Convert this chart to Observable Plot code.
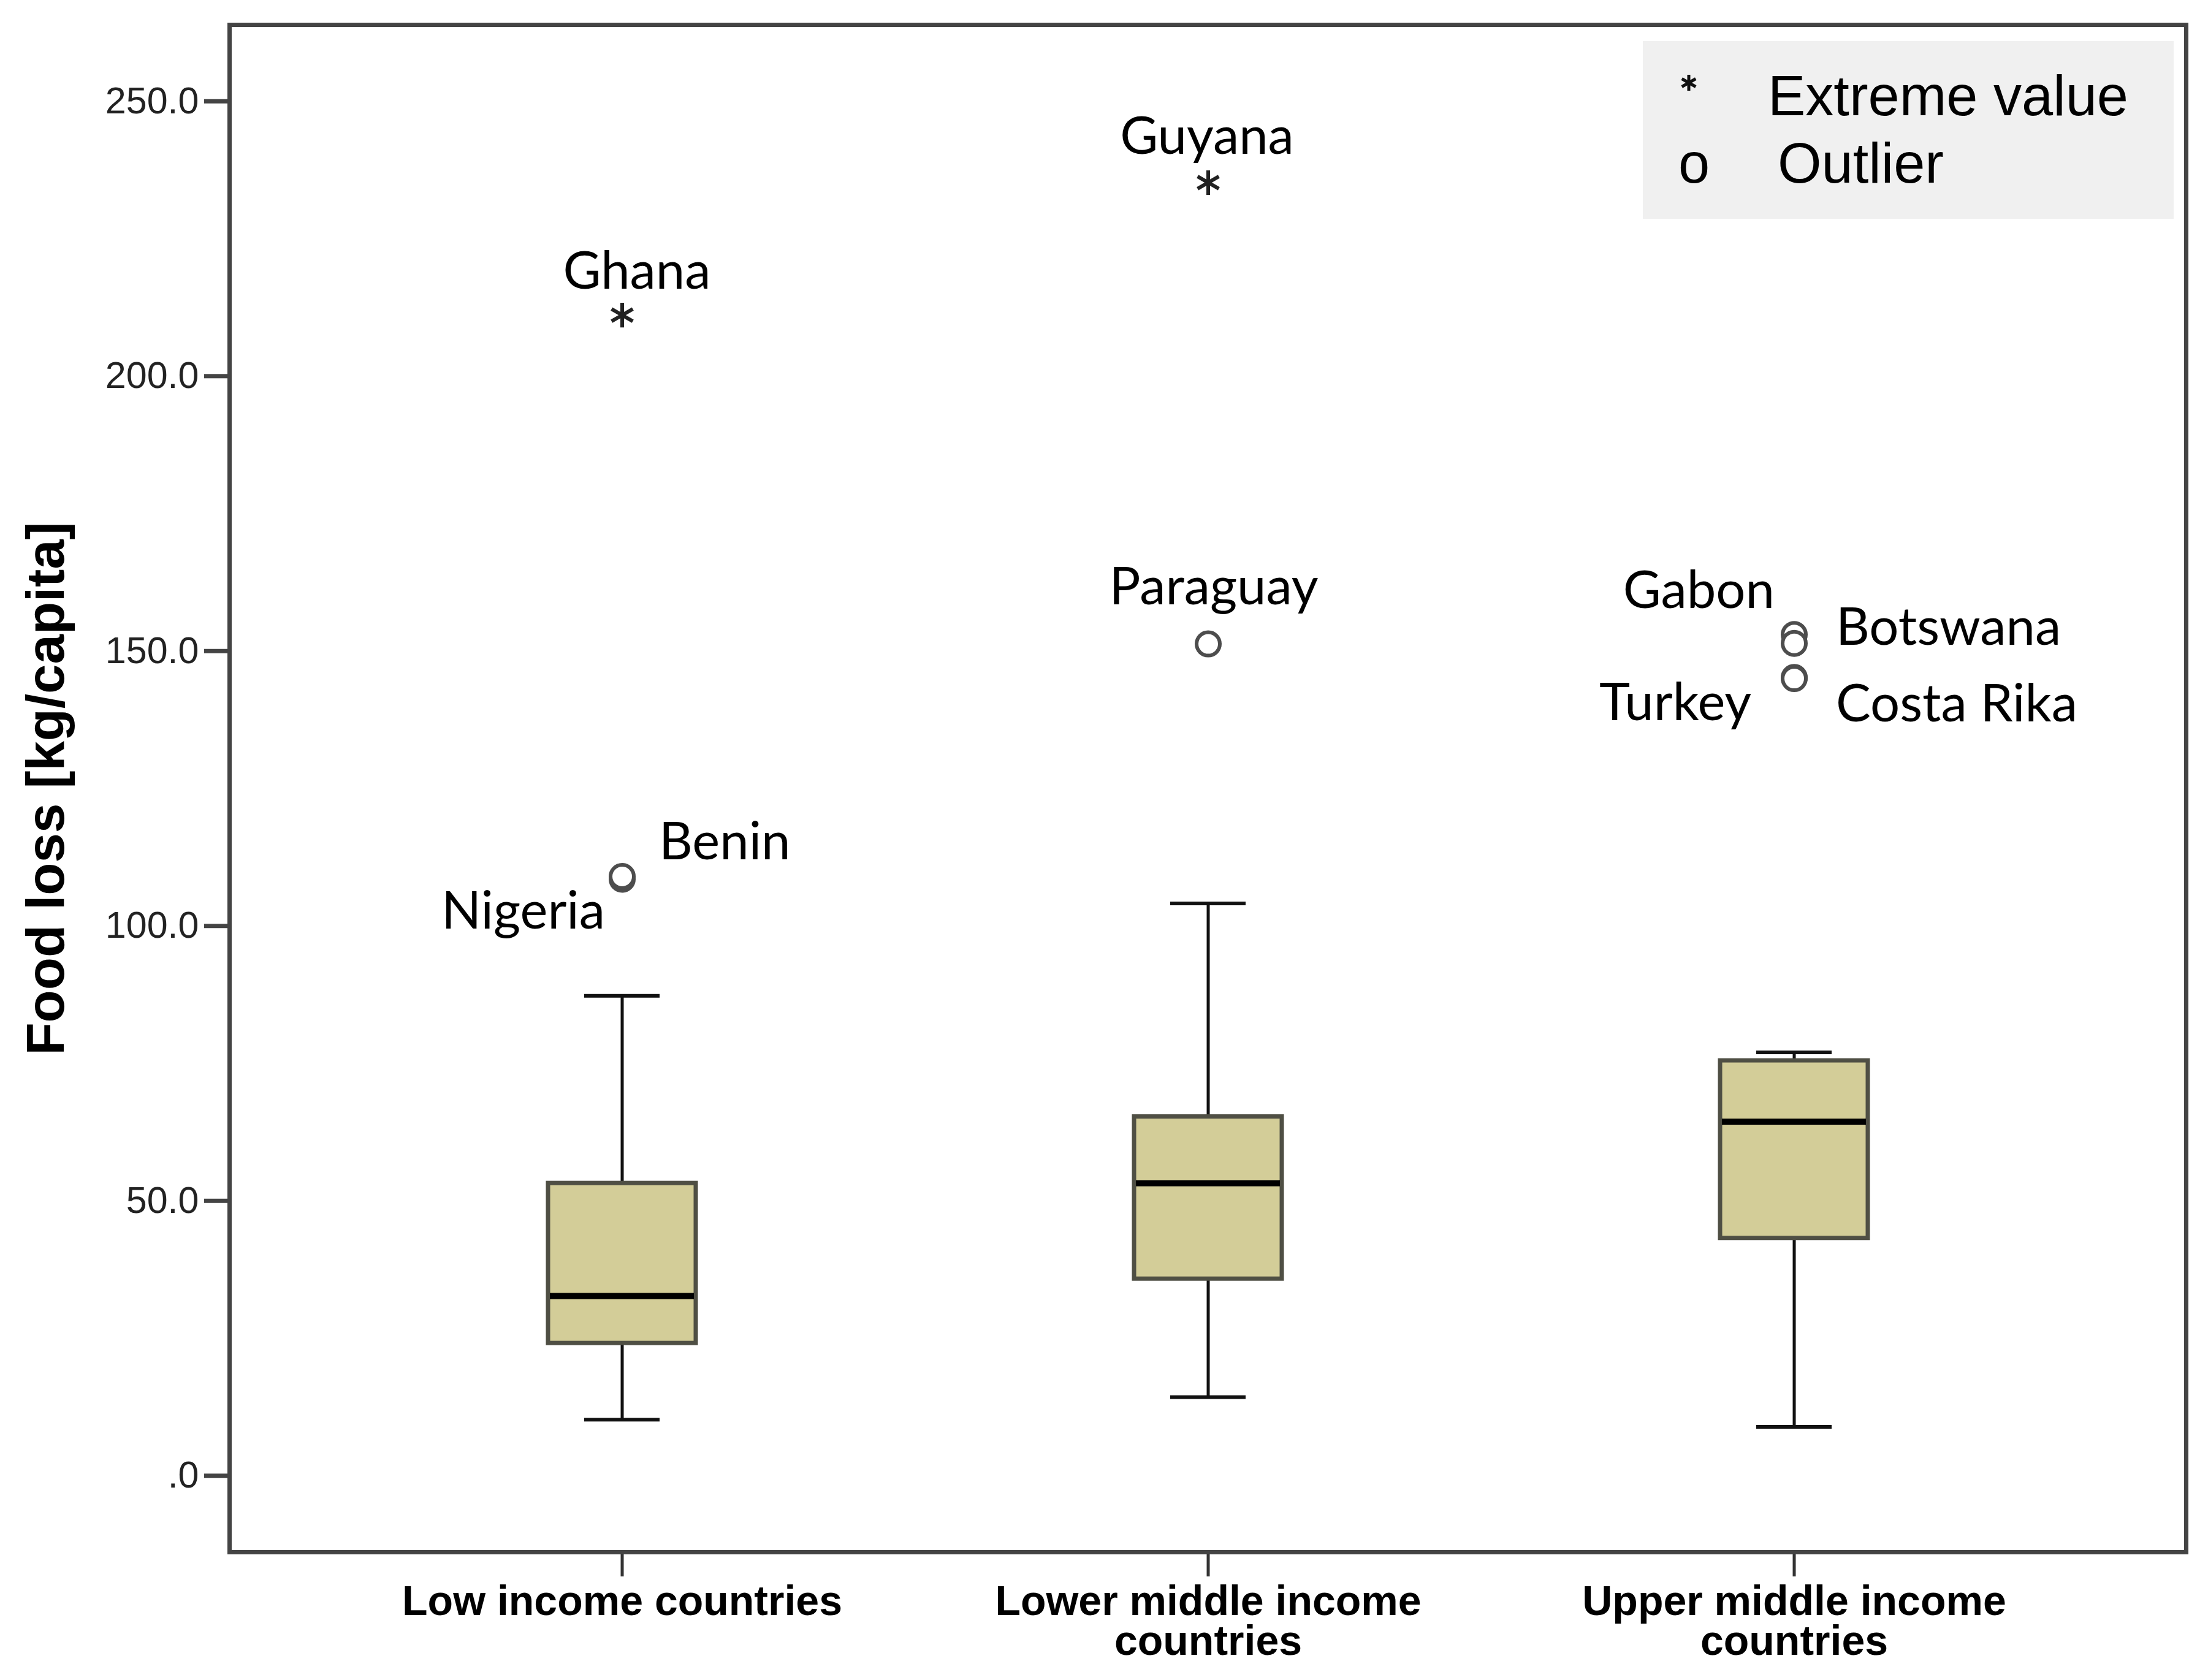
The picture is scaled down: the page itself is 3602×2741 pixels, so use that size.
<!DOCTYPE html>
<html>
<head>
<meta charset="utf-8">
<script src="https://cdn.jsdelivr.net/npm/d3@7"></script>
<script src="https://cdn.jsdelivr.net/npm/@observablehq/plot@0.6"></script>
<style>
  html, body { margin: 0; padding: 0; background: #fff; }
  #chart svg { display: block; }
</style>
</head>
<body>
<div id="chart"></div>
<script>
// ---- data ----
const categories = ["Low income countries", "Lower middle income countries", "Upper middle income countries"];
const tickLabels = ["Low income countries", "Lower middle income\ncountries", "Upper middle income\ncountries"];
const whiskerLow  = [10.2, 14.3, 8.9];
const q1          = [24.1, 35.8, 43.2];
const median      = [32.7, 53.2, 64.4];
const q3          = [53.2, 65.3, 75.5];
const whiskerHigh = [87.3, 104.1, 77.0];

const outlierCountries = ["Nigeria", "Benin", "Paraguay", "Gabon", "Botswana", "Turkey", "Costa Rika"];
const outlierGroup     = [0, 0, 1, 2, 2, 2, 2];
const outlierValues    = [108.5, 109.0, 151.3, 153.0, 151.4, 145.2, 145.0];

const extremeCountries = ["Ghana", "Guyana"];
const extremeGroup     = [0, 1];
const extremeValues    = [211.1, 235.2];

const yTicks = [0, 50, 100, 150, 200, 250];
const yLabel = "Food loss [kg/capita]";
const legendItems = ["Extreme value", "Outlier"];

// ---- tables built from the arrays ----
const boxes = categories.map((c, i) => ({
  cat: c, lo: whiskerLow[i], q1: q1[i], med: median[i], q3: q3[i], hi: whiskerHigh[i]
}));
const outliers = outlierCountries.map((n, i) => ({name: n, cat: categories[outlierGroup[i]], v: outlierValues[i]}));
const extremes = extremeCountries.map((n, i) => ({name: n, cat: categories[extremeGroup[i]], v: extremeValues[i]}));

// label placement (layout only)
const labelPlacement = {
  "Ghana":      {anchor: "middle", dx: 24,  dy: -43, src: "ext"},
  "Guyana":     {anchor: "middle", dx: -2,  dy: -47, src: "ext"},
  "Paraguay":   {anchor: "middle", dx: 9,   dy: -65, src: "out"},
  "Benin":      {anchor: "start",  dx: 60,  dy: -28, src: "out"},
  "Nigeria":    {anchor: "end",    dx: -28, dy: 80,  src: "out"},
  "Gabon":      {anchor: "end",    dx: -32, dy: -43, src: "out"},
  "Botswana":   {anchor: "start",  dx: 68,  dy: 2,   src: "out"},
  "Turkey":     {anchor: "end",    dx: -70, dy: 70,  src: "out"},
  "Costa Rika": {anchor: "start",  dx: 68,  dy: 70,  src: "out"}
};

const labelFont = "Lato, 'Open Sans', sans-serif";
const labelMarks = Object.entries(labelPlacement).map(([name, p]) =>
  Plot.text((p.src === "ext" ? extremes : outliers).filter(d => d.name === name), {
    x: "cat", y: "v", text: "name",
    textAnchor: p.anchor, lineAnchor: "bottom",
    dx: p.dx, dy: p.dy,
    fontSize: 85, fontFamily: labelFont, fill: "#000"
  })
);

const chart = Plot.plot({
  width: 3602,
  height: 2741,
  marginLeft: 374,
  marginRight: 36,
  marginTop: 40,
  marginBottom: 209,
  style: {background: "#fff", fontFamily: "'Liberation Sans', Arial, sans-serif"},
  x: {type: "band", domain: categories, paddingInner: 0.748, paddingOuter: 0.5425},
  y: {domain: [-13.9, 263.9]},
  marks: [
    Plot.axisY({
      ticks: yTicks,
      tickFormat: d => d === 0 ? ".0" : d.toFixed(1),
      tickSize: 41, tickPadding: 9, fontSize: 61,
      stroke: "#444", strokeWidth: 7, fill: "#222", label: null
    }),
    Plot.axisX({
      tickFormat: d => tickLabels[categories.indexOf(d)],
      tickSize: 40, tickPadding: 16, fontSize: 68, fontWeight: "bold",
      stroke: "#333", strokeWidth: 5, fill: "#000", label: null, lineHeight: 0.96
    }),
    Plot.text([yLabel], {
      frameAnchor: "left", textAnchor: "middle", rotate: -90, dx: -298, lineAnchor: "middle",
      fontSize: 87, fontWeight: "bold", fill: "#000"
    }),
    // whiskers
    Plot.ruleX(boxes, {x: "cat", y1: "lo", y2: "q1", stroke: "#111", strokeWidth: 5}),
    Plot.ruleX(boxes, {x: "cat", y1: "q3", y2: "hi", stroke: "#111", strokeWidth: 5}),
    Plot.tickY(boxes, {x: "cat", y: "lo", stroke: "#111", strokeWidth: 6, insetLeft: 59, insetRight: 59}),
    Plot.tickY(boxes, {x: "cat", y: "hi", stroke: "#111", strokeWidth: 6, insetLeft: 59, insetRight: 59}),
    // boxes
    Plot.barY(boxes, {x: "cat", y1: "q1", y2: "q3", fill: "#d3cd98", stroke: "#4f4f44", strokeWidth: 7}),
    Plot.tickY(boxes, {x: "cat", y: "med", stroke: "#000", strokeWidth: 10, insetLeft: 3, insetRight: 3}),
    // outliers and extremes
    Plot.dot(outliers, {x: "cat", y: "v", r: 19, fill: "#fff", stroke: "#4d4d4d", strokeWidth: 6}),
    Plot.dot(extremes, {x: "cat", y: "v", symbol: "asterisk", r: 19, stroke: "#222", strokeWidth: 6}),
    ...labelMarks,
    Plot.frame({stroke: "#444", strokeWidth: 7})
  ]
});

document.getElementById("chart").appendChild(chart);

// ---- legend inside the frame (top-right) ----
const svg = d3.select(chart);
const lg = svg.append("g")
  .attr("font-family", "'Liberation Sans', Arial, sans-serif")
  .attr("text-anchor", "start");
lg.append("rect").attr("x", 2680).attr("y", 67).attr("width", 866).attr("height", 290).attr("fill", "#f0f0f0");
lg.append("path")
  .attr("d", d3.symbol(d3.symbolAsterisk, 480)())
  .attr("transform", "translate(2755,135)")
  .attr("stroke", "#111").attr("stroke-width", 5).attr("fill", "none");
lg.append("text").attr("x", 2738).attr("y", 298).attr("text-anchor", "start").style("font-size", "92px").attr("fill", "#000").text("o");
lg.append("text").attr("x", 2884).attr("y", 188).attr("text-anchor", "start").style("font-size", "92px").attr("fill", "#000").text(legendItems[0]);
lg.append("text").attr("x", 2900).attr("y", 298).attr("text-anchor", "start").style("font-size", "92px").attr("fill", "#000").text(legendItems[1]);
</script>
</body>
</html>
